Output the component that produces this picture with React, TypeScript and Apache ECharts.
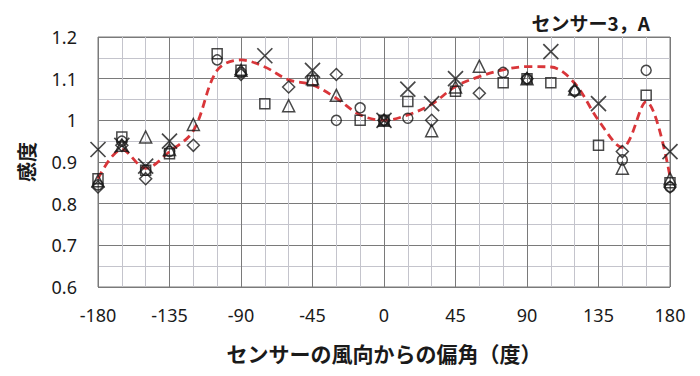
import React, { useEffect, useRef } from "react";
import * as echarts from "echarts";

const angles = [-180, -165, -150, -135, -120, -105, -90, -75, -60, -45, -30, -15, 0, 15, 30, 45, 60, 75, 90, 105, 120, 135, 150, 165, 180];
const xTicks = [-180, -135, -90, -45, 0, 45, 90, 135, 180];
const yTicks = [0.6, 0.7, 0.8, 0.9, 1, 1.1, 1.2];

const circleVals = [0.845, 0.95, 0.88, 0.925, null, 1.145, 1.115, null, null, null, 1.0, 1.03, 1.0, 1.005, null, null, null, 1.115, 1.1, null, 1.07, null, 0.905, 1.12, 0.84];
const squareVals = [0.86, 0.96, 0.88, 0.92, null, 1.16, 1.12, 1.04, null, 1.095, null, 1.0, 1.0, 1.045, null, 1.07, null, 1.09, 1.1, 1.09, null, 0.94, null, 1.06, 0.85];
const diamondVals = [0.84, 0.94, 0.86, null, 0.94, null, 1.11, null, 1.08, null, 1.11, null, 1.0, null, 1.0, null, 1.065, null, 1.1, null, 1.07, null, 0.925, null, 0.84];
const triangleVals = [0.855, 0.94, 0.96, 0.93, 0.99, null, 1.12, null, 1.035, 1.1, 1.06, null, 1.0, null, 0.975, 1.08, 1.13, null, 1.1, null, 1.075, null, 0.885, null, 0.86];
const crossVals = [0.93, 0.94, 0.89, 0.95, null, null, null, 1.155, null, 1.12, null, null, 1.0, 1.075, 1.04, 1.1, null, null, null, 1.165, null, 1.04, null, null, 0.925];
const fitVals = [0.86, 0.93, 0.885, 0.925, 0.975, 1.12, 1.145, 1.128, 1.097, 1.085, 1.053, 1.013, 1.0, 1.013, 1.039, 1.081, 1.105, 1.121, 1.129, 1.128, 1.089, 1.0, 0.935, 1.045, 0.865];

const toData = (vals: (number | null)[]) =>
  angles.map((a, i) => (vals[i] == null ? null : [a, vals[i]])).filter((d) => d !== null);

const FONT = "'Noto Sans', 'Noto Sans CJK JP', sans-serif";
const CJK = "'Noto Sans CJK JP', sans-serif";

export default function App() {
  const ref = useRef<HTMLDivElement>(null);
  useEffect(() => {
    if (!ref.current) return;
    const chart = echarts.init(ref.current, undefined, { renderer: "svg" });
    const openStyle = { color: "rgba(0,0,0,0)", borderColor: "#1a1a1a", borderWidth: 1.5 };
    const scatter = (name: string, vals: (number | null)[], symbol: string, size: number, bw = 1.5) => ({
      name,
      type: "scatter",
      data: toData(vals),
      symbol,
      symbolSize: size,
      itemStyle: { ...openStyle, borderWidth: bw },
      z: 3,
    });
    chart.setOption({
      animation: false,
      backgroundColor: "#ffffff",
      title: {
        text: "センサー3，A",
        right: 45,
        top: 8,
        textStyle: { fontFamily: CJK, fontSize: 19, fontWeight: "bold", color: "#1a1a1a" },
      },
      grid: {
        left: 98,
        right: 30,
        top: 37,
        bottom: 89,
        show: true,
        borderColor: "#7a7a7a",
        borderWidth: 1,
        backgroundColor: "transparent",
      },
      xAxis: {
        type: "value",
        min: -180,
        max: 180,
        interval: 45,
        name: "センサーの風向からの偏角（度）",
        nameLocation: "middle",
        nameGap: 55,
        nameTextStyle: { fontFamily: CJK, fontSize: 21, fontWeight: "bold", color: "#1a1a1a" },
        axisLine: { show: false },
        axisTick: { show: false },
        axisLabel: {
          margin: 19,
          fontFamily: FONT,
          fontSize: 18,
          color: "#1a1a1a",
          formatter: (v: number) => (xTicks.includes(v) ? String(v) : ""),
        },
        splitLine: { show: true, lineStyle: { color: "#7a7a7a", width: 1 } },
        minorTick: { show: false, splitNumber: 3 },
        minorSplitLine: { show: true, lineStyle: { color: "#c4c4cc", width: 1 } },
      },
      yAxis: {
        type: "value",
        min: 0.6,
        max: 1.2,
        interval: 0.1,
        name: "感度",
        nameLocation: "middle",
        nameGap: 62,
        nameRotate: 90,
        nameTextStyle: { fontFamily: CJK, fontSize: 20, fontWeight: "bold", color: "#1a1a1a" },
        axisLine: { show: false },
        axisTick: { show: false },
        axisLabel: {
          margin: 21,
          fontFamily: FONT,
          fontSize: 18,
          color: "#1a1a1a",
          formatter: (v: number) => {
            const r = Math.round(v * 10) / 10;
            return yTicks.includes(r) ? String(r) : "";
          },
        },
        splitLine: { show: true, lineStyle: { color: "#7a7a7a", width: 1 } },
        minorTick: { show: false, splitNumber: 2 },
        minorSplitLine: { show: true, lineStyle: { color: "#c4c4cc", width: 1 } },
      },
      series: [
        {
          name: "fit",
          type: "line",
          data: toData(fitVals),
          smooth: 0.35,
          showSymbol: false,
          symbol: "none",
          lineStyle: { color: "#d9363a", width: 2.8, type: [8, 5] },
          z: 2,
        },
        scatter("circle", circleVals, "circle", 10),
        scatter("square", squareVals, "rect", 10),
        scatter("diamond", diamondVals, "diamond", 12),
        scatter("triangle", triangleVals, "triangle", 12),
        scatter("cross", crossVals, "path://M0,0L10,10M10,0L0,10", 15, 1.7),
      ],
    });
    return () => chart.dispose();
  }, []);
  return <div ref={ref} style={{ width: 700, height: 376, position: "absolute", left: 0, top: 0 }} />;
}
